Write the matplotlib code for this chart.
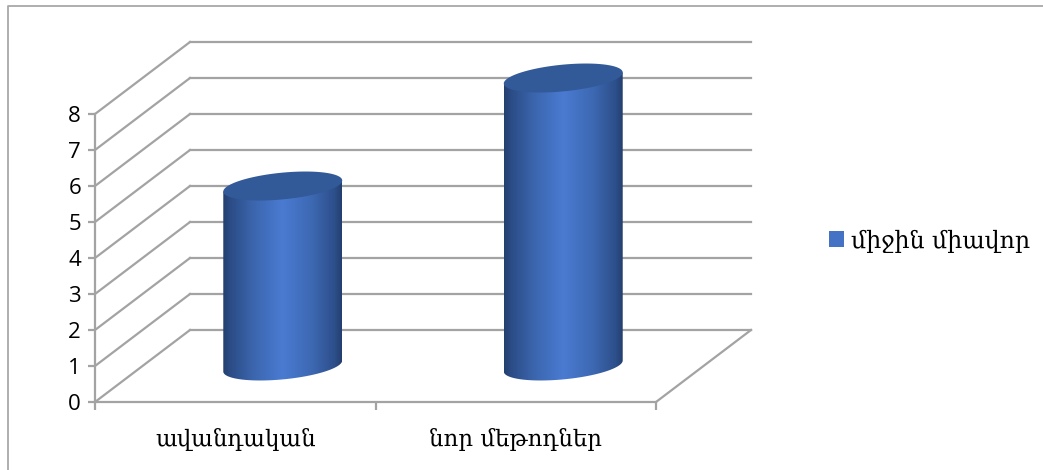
import numpy as np
import matplotlib
matplotlib.use("Agg")
import matplotlib.pyplot as plt
from matplotlib.colors import LinearSegmentedColormap
from matplotlib.lines import Line2D
from matplotlib.patches import Patch, PathPatch, Polygon
from matplotlib.path import Path

categories = ["ավանդական", "նոր մեթոդներ"]
values = [5, 8]
series_name = "միջին միավոր"
y_ticks = [0, 1, 2, 3, 4, 5, 6, 7, 8]

W, H = 1043, 470
GRID = "#a3a3a3"
DEPTH_X = 95 / 280.5
DEPTH_Y = 2.0
ARM = ["DejaVu Serif", "DejaVu Sans"]
LAT = ["Open Sans", "DejaVu Sans"]

fig = plt.figure(figsize=(W / 100, H / 100), dpi=100, facecolor="white")
ax = fig.add_axes([95 / W, (H - 402) / H, 561 / W, 288 / H])
ax.set_facecolor("none")

# frame around the chart
fig.add_artist(Line2D([7.5 / W, 7.5 / W, 1], [0, 1 - 6 / H, 1 - 6 / H], color="#a8a8a8", lw=1.3))

n = len(categories)
# walls and floor
for v in y_ticks:
    ax.plot([0, DEPTH_X], [v, v + DEPTH_Y], color=GRID, lw=1.6, clip_on=False, zorder=1)
    ax.plot([DEPTH_X, n + DEPTH_X], [v + DEPTH_Y] * 2, color=GRID, lw=1.6, clip_on=False, zorder=1)
ax.plot([n, n + DEPTH_X], [0, DEPTH_Y], color=GRID, lw=1.6, clip_on=False, zorder=1)

# cylinders
cmap = LinearSegmentedColormap.from_list(
    "cyl",
    [(0, "#243f6e"), (0.06, "#2b4c86"), (0.25, "#3b65ad"), (0.5, "#4a7bd2"),
     (0.75, "#3d68b2"), (0.94, "#2d4f8b"), (1, "#243f6e")],
)
grad = np.linspace(0, 1, 256).reshape(1, -1)
A, B, C = 0.212, 0.372, 0.153
t = np.linspace(0, 2 * np.pi, 181)
for i, v in enumerate(values):
    cx = i + 0.5 + DEPTH_X / 2
    cy = DEPTH_Y / 2
    s = np.linspace(0, np.pi, 91)
    bx = cx + A * np.cos(s)
    by = cy - B * np.sin(s) + C * np.cos(s)
    verts = [(cx + A, cy + C + v), (cx + A, cy + C)] + list(zip(bx, by)) + [(cx - A, cy - C + v), (cx + A, cy + C + v)]
    clip = PathPatch(Path(verts), transform=ax.transData, fc="none", ec="none")
    ax.add_patch(clip)
    im = ax.imshow(grad, cmap=cmap, aspect="auto", zorder=3, interpolation="bilinear",
                   extent=[cx - A, cx + A, cy - B - 0.1, cy + v + 0.2])
    im.set_clip_box(fig.bbox)
    im.set_clip_path(clip)
    ex = cx + A * np.cos(t)
    ey = cy + v + B * np.sin(t) + C * np.cos(t)
    ax.add_patch(Polygon(np.column_stack([ex, ey]), closed=True, fc="#325a98", ec="none", zorder=4, clip_on=False))

ax.set_xlim(0, n)
ax.set_ylim(0, 8)

for side in ("top", "right"):
    ax.spines[side].set_visible(False)
for side in ("left", "bottom"):
    ax.spines[side].set_color(GRID)
    ax.spines[side].set_linewidth(1.6)

ax.set_yticks(y_ticks)
ax.set_yticklabels([str(v) for v in y_ticks], family=LAT, fontsize=16, color="black")
ax.tick_params(axis="y", length=5, width=1.6, color=GRID, pad=5)
ax.set_xticks(np.arange(n + 1))
ax.set_xticklabels([""] * (n + 1))
ax.tick_params(axis="x", which="major", length=6, width=1.6, color=GRID)
ax.set_xticks(np.arange(n) + 0.5, minor=True)
ax.set_xticklabels(categories, minor=True, family=ARM, fontsize=16.5, color="black")
ax.tick_params(axis="x", which="minor", length=0, pad=19)

leg = fig.legend(
    handles=[Patch(fc="#4472c4", ec="none", label=series_name)],
    loc="center left", bbox_to_anchor=(829 / W, 1 - 241 / H), frameon=False,
    prop={"family": ARM, "size": 17}, handlelength=0.64, handleheight=0.64,
    handletextpad=0.3, borderpad=0, borderaxespad=0,
)

fig.savefig("out.png", dpi=100)
